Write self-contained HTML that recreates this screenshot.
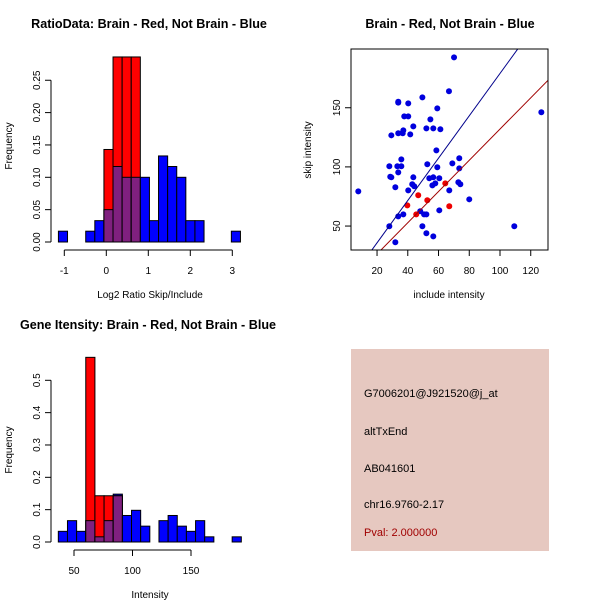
<!DOCTYPE html>
<html><head><meta charset="utf-8"><style>
html,body{margin:0;padding:0;background:#fff;}
svg{display:block;font-family:"Liberation Sans",sans-serif;}
</style></head><body>
<svg id="s" width="600" height="600" xmlns="http://www.w3.org/2000/svg">
<rect width="600" height="600" fill="#fff"/>
<text x="149" y="28" font-size="12.6" font-weight="bold" text-anchor="middle">RatioData: Brain - Red, Not Brain - Blue</text>
<text x="450" y="28" font-size="12.6" font-weight="bold" text-anchor="middle">Brain - Red, Not Brain - Blue</text>
<text x="148" y="329" font-size="12.6" font-weight="bold" text-anchor="middle">Gene Itensity: Brain - Red, Not Brain - Blue</text>
<text x="150" y="298" font-size="10" text-anchor="middle">Log2 Ratio Skip/Include</text>
<text transform="translate(12,146) rotate(-90)" font-size="10" text-anchor="middle">Frequency</text>
<text x="449" y="298" font-size="10" text-anchor="middle">include intensity</text>
<text transform="translate(311,150) rotate(-90)" font-size="10" text-anchor="middle">skip intensity</text>
<text x="150" y="598" font-size="10" text-anchor="middle">Intensity</text>
<text transform="translate(12,450) rotate(-90)" font-size="10" text-anchor="middle">Frequency</text>
<g>
<rect x="351" y="349" width="198" height="202" fill="#e6c8c0"/>
<text x="364" y="397" font-size="11">G7006201@J921520@j_at</text>
<text x="364" y="435" font-size="11">altTxEnd</text>
<text x="364" y="472" font-size="11">AB041601</text>
<text x="364" y="508" font-size="11">chr16.9760-2.17</text>
<text x="364" y="536" font-size="11" fill="#a00000">Pval: 2.000000</text>
</g>
</svg>
<script>
const ratioBlue=[0.0167,0,0,0.0167,0.033,0.05,0.1167,0.1,0.1,0.1,0.033,0.133,0.1167,0.1,0.033,0.033,0,0,0,0.0167];
const ratioRed=[0,0,0,0,0,0.143,0.286,0.286,0.286,0,0,0,0,0,0,0,0,0,0,0];
const ratioBinStart=-1.14, ratioBinWidth=0.2167;
const ratioXTicks=[-1,0,1,2,3];
const ratioYTicks=["0.00","0.05","0.10","0.15","0.20","0.25"];
const intBlue=[0.033,0.066,0.033,0.066,0.016,0.066,0.148,0.082,0.098,0.049,0,0.066,0.082,0.049,0.033,0.066,0.016,0,0,0.016];
const intRed=[0,0,0,0.571,0.143,0.143,0.143,0,0,0,0,0,0,0,0,0,0,0,0,0];
const intBinStart=36.6, intBinWidth=7.82;
const intXTicks=[50,100,150];
const intYTicks=["0.0","0.1","0.2","0.3","0.4","0.5"];
const blueX=[7.8,70.1,66.8,49.5,59.2,33.8,33.8,40.3,37.7,40.3,54.7,43.6,29.3,33.8,36.7,37.1,41.6,52.1,56.6,61.2,58.6,35.8,28.0,33.2,35.8,69.0,73.5,52.7,59.2,29.3,28.6,33.8,43.6,54.0,56.6,60.5,73.5,31.9,40.3,42.9,44.2,56.0,57.9,72.9,74.2,67.0,80.0,60.5,48.1,52.1,37.1,33.8,28.0,49.5,52.1,56.6,31.9,109.3,126.9,50.6];
const blueY=[79.3,192.6,163.9,158.8,149.5,155.1,154.3,153.7,142.7,142.7,140.2,134.3,126.7,128.4,128.4,130.9,127.5,132.6,132.6,131.8,114.0,106.4,100.5,100.5,100.5,103.0,107.3,102.2,99.7,91.2,91.7,95.4,91.2,90.4,91.2,90.4,98.8,82.8,80.2,85.3,83.6,84.4,86.1,87.0,85.3,80.2,72.6,63.3,62.5,59.9,59.9,58.2,49.8,49.8,43.9,41.3,36.3,49.8,146.2,59.9];
const redX=[39.7,46.8,52.7,45.5,64.4,67.0];
const redY=[67.5,76.0,71.8,59.9,86.1,66.7];
const blueSlope=1.79, redSlope=1.32;
const scXTicks=[20,40,60,80,100,120];
const scYTicks=[50,100,150];

const NS="http://www.w3.org/2000/svg";
const svg=document.getElementById('s');
function mk(tag,attrs,parent){const e=document.createElementNS(NS,tag);for(const k in attrs)e.setAttribute(k,attrs[k]);(parent||svg).appendChild(e);return e;}

function hist(blue,red,start,w,xs,ys,y0,yScale,xTicks,yTicks,yStep,axisY,prefix){
  const g=mk('g',{});
  
  
  for(let i=0;i<blue.length;i++){
    const x0=xs(start+i*w), x1=xs(start+(i+1)*w);
    const b=blue[i], r=red[i];
    if(b>0){const e=mk('rect',{x:x0,y:y0-b*yScale,width:x1-x0,height:b*yScale,fill:'#0000ff',stroke:'#000','stroke-width':1},g);
      
      }
    if(r>0){const e=mk('rect',{x:x0,y:y0-r*yScale,width:x1-x0,height:r*yScale,fill:'#ff0000',stroke:'#000','stroke-width':1},g);
      
      }
    const m=Math.min(b,r);
    if(m>0){const e=mk('rect',{x:x0,y:y0-m*yScale,width:x1-x0,height:m*yScale,fill:'#80207f',stroke:'#000','stroke-width':1},g);
      
      }
  }
  const ytop=y0-(yTicks.length-1)*yStep*yScale;
  mk('line',{x1:51,y1:y0,x2:51,y2:ytop,stroke:'#000'},g);
  yTicks.forEach((t,i)=>{const y=y0-i*yStep*yScale;
    mk('line',{x1:45,y1:y,x2:51,y2:y,stroke:'#000'},g);
    const e=mk('text',{transform:`translate(40,${y}) rotate(-90)`,'font-size':10,'text-anchor':'middle'},g);e.textContent=t;
    
    });
  mk('line',{x1:xs(xTicks[0]),y1:axisY,x2:xs(xTicks[xTicks.length-1]),y2:axisY,stroke:'#000'},g);
  xTicks.forEach(t=>{const x=xs(t);
    mk('line',{x1:x,y1:axisY,x2:x,y2:axisY+6,stroke:'#000'},g);
    const e=mk('text',{x:x,y:axisY+24,'font-size':10,'text-anchor':'middle'},g);e.textContent=t;
    
    });
}
hist(ratioBlue,ratioRed,ratioBinStart,ratioBinWidth,v=>64.3+(v+1)*42,null,242,647,ratioXTicks,ratioYTicks,0.05,250,'ratio');
hist(intBlue,intRed,intBinStart,intBinWidth,v=>74+(v-50)*1.17,null,542,323.4,intXTicks,intYTicks,0.1,550,'intensity');

const sx=v=>346.3+v*1.537, sy=v=>285.2-v*1.183;
const sg=mk('g',{});


const cp=mk('clipPath',{id:'cp'},sg);mk('rect',{x:351,y:49,width:197,height:201},cp);
blueX.forEach((x,i)=>{const c=mk('circle',{cx:sx(x),cy:sy(blueY[i]),r:3,fill:'#0000dd'},sg);
  
  });
redX.forEach((x,i)=>{const c=mk('circle',{cx:sx(x),cy:sy(redY[i]),r:3,fill:'#ee0000'},sg);
  
  });
const bl=mk('line',{x1:sx(0),y1:sy(0),x2:sx(140),y2:sy(140*blueSlope),stroke:'#00008b','clip-path':'url(#cp)'},sg);


const rl=mk('line',{x1:sx(0),y1:sy(0),x2:sx(140),y2:sy(140*redSlope),stroke:'#a00000','clip-path':'url(#cp)'},sg);


mk('rect',{x:351,y:49,width:197,height:201,fill:'none',stroke:'#000'},sg);
scXTicks.forEach(t=>{const x=sx(t);mk('line',{x1:x,y1:250,x2:x,y2:256,stroke:'#000'},sg);
  const e=mk('text',{x:x,y:274,'font-size':10,'text-anchor':'middle'},sg);e.textContent=t;
  
  });
scYTicks.forEach(t=>{const y=sy(t);mk('line',{x1:345,y1:y,x2:351,y2:y,stroke:'#000'},sg);
  const e=mk('text',{transform:`translate(340,${y}) rotate(-90)`,'font-size':10,'text-anchor':'middle'},sg);e.textContent=t;
  
  });
</script>
</body></html>
